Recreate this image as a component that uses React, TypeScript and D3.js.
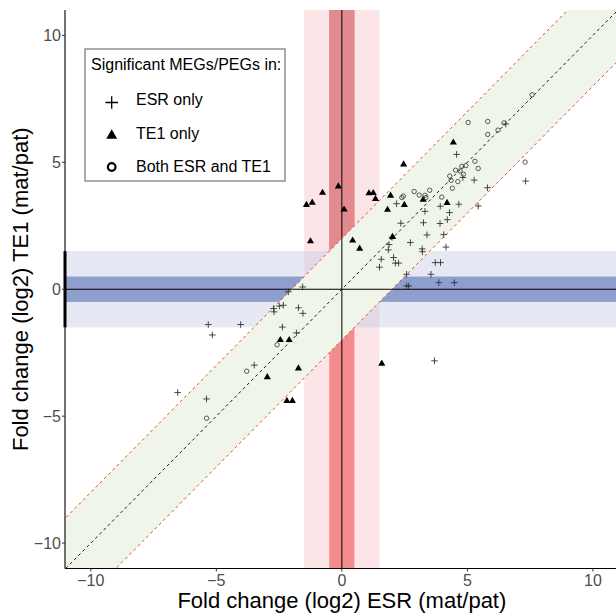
import { useMemo } from 'react';
import * as d3 from 'd3';

// ── Data (log2 mat/pat fold changes) ────────────────────────────────────────
const ESR_ONLY: [number, number][] = [
  [4.57, 5.31], [5.27, 4.30], [4.82, 4.40], [7.32, 4.26], [5.80, 4.0], [5.43, 3.28],
  [4.66, 3.35], [2.18, 3.37], [3.92, 3.27], [3.31, 3.07], [4.29, 3.02], [4.20, 2.74],
  [2.35, 2.60], [3.25, 2.62], [3.91, 2.59], [3.39, 2.14], [4.06, 2.15], [2.73, 1.84],
  [4.15, 1.66], [1.88, 1.76], [1.85, 1.55], [3.20, 1.59], [3.21, 1.48], [1.57, 1.18],
  [2.06, 1.25], [2.13, 1.03], [2.26, 1.03], [1.50, 0.87], [3.72, 1.05], [3.93, 1.05],
  [3.55, 0.59], [2.58, 0.59], [2.58, 0.13], [2.66, 0.13], [3.86, 0.26], [4.48, 0.26],
  [2.0, 2.05], [6.53, 6.51],
  [-1.56, 0.09], [-2.13, -0.10], [-2.72, -0.76], [-2.49, -0.66], [-2.33, -0.63], [-2.70, -0.89],
  [-1.73, -0.73], [-1.55, -0.95], [-2.37, -1.49], [-1.81, -1.72], [-5.32, -1.39], [-4.03, -1.39],
  [-5.16, -1.80], [3.69, -2.82], [-3.49, -2.99], [-6.54, -4.07], [-5.39, -4.32],
];

const TE1_ONLY: [number, number][] = [
  [2.46, 4.92], [4.44, 5.78], [-0.14, 4.05], [-0.77, 3.80], [-1.41, 3.32], [-1.18, 3.41],
  [1.08, 3.78], [1.25, 3.79], [1.34, 3.56], [0.09, 3.14], [-1.25, 1.89], [0.43, 1.92],
  [0.71, 1.60], [1.94, 3.69], [1.82, 3.13], [2.49, 3.32], [3.24, 3.53], [4.19, 3.40],
  [2.02, 2.06], [-2.45, -2.0], [-2.10, -2.0], [-2.97, -3.46], [-1.73, -3.12],
  [-2.19, -4.40], [-1.97, -4.40], [1.59, -2.93],
];

const BOTH: [number, number][] = [
  [5.03, 6.57], [5.81, 6.61], [5.81, 6.10], [6.46, 6.55], [6.22, 6.27], [7.30, 5.01],
  [7.58, 7.66], [5.30, 5.04], [5.43, 4.76], [4.78, 4.84], [4.94, 4.87], [4.53, 4.69],
  [4.71, 4.66], [4.84, 4.53], [4.30, 4.46], [4.35, 4.29], [4.62, 4.24], [4.40, 3.98],
  [3.50, 3.90], [2.88, 3.85], [3.08, 3.71], [3.31, 3.70], [3.35, 3.61], [3.98, 3.63],
  [2.39, 3.61], [2.45, 3.67], [-3.79, -3.23], [-2.58, -2.19], [-5.39, -5.08],
];

const TICKS = [-10, -5, 0, 5, 10];
const LEGEND_TITLE = 'Significant MEGs/PEGs in:';
const LEGEND_ITEMS = ['ESR only', 'TE1 only', 'Both ESR and TE1'];
const X_TITLE = 'Fold change (log2) ESR (mat/pat)';
const Y_TITLE = 'Fold change (log2) TE1 (mat/pat)';

const W = 616, H = 616;
const FONT = 'Liberation Sans, Arial, sans-serif';

export default function App() {
  const x = d3.scaleLinear().domain([-11, 11]).range([65.7, 618]);
  const y = d3.scaleLinear().domain([-11, 11]).range([568.5, 10]);
  const left = 65, bottom = 568.5, top = 10;

  const tri = useMemo(() => d3.symbol(d3.symbolTriangle, 22)(), []);
  const triBig = useMemo(() => d3.symbol(d3.symbolTriangle, 52)(), []);
  const poly = (pts: [number, number][]) => pts.map(([a, b]) => `${x(a)},${y(b)}`).join(' ');
  const fmt = (d: number) => (d < 0 ? `\u2212${-d}` : `${d}`);

  return (
    <svg width={W} height={H} style={{ position: 'absolute', left: 0, top: 0, background: '#fff' }}>
      <defs>
        <clipPath id="plot">
          <rect x={left} y={top} width={W - left} height={bottom - top} />
        </clipPath>
      </defs>
      <g clipPath="url(#plot)">
        {/* horizontal TE1 bands */}
        <rect x={left} width={W} y={y(1.5)} height={y(-1.5) - y(1.5)} fill="#e6e8f3" />
        <rect x={left} width={W} y={y(0.5)} height={y(-0.5) - y(0.5)} fill="#8f9fcd" />
        {/* vertical ESR bands */}
        <rect x={x(-1.5)} width={x(1.5) - x(-1.5)} y={top} height={bottom - top} fill="#fbe5e6" />
        <rect x={x(-0.5)} width={x(0.5) - x(-0.5)} y={top} height={bottom - top} fill="#f48b8c" />
        <polygon points={poly([[-0.5, 11], [0.5, 11], [0.5, 2.5], [-0.5, 1.5]])} fill="#e38a8f" />
        <rect x={x(-1.5)} width={x(1.5) - x(-1.5)} y={y(1.5)} height={y(-1.5) - y(1.5)} fill="#e3d8e6" />
        {/* +/- 2 band around the diagonal */}
        <polygon points={poly([[-13, -11], [9, 11], [13, 11], [-9, -11]])} fill="#eff6e9" />
        <line x1={x(0)} x2={x(0)} y1={top} y2={bottom} stroke="#000" strokeWidth={1} />
        <line x1={left} x2={W} y1={y(0)} y2={y(0)} stroke="#000" strokeWidth={1} />
        <line x1={x(-11)} y1={y(-11)} x2={x(11)} y2={y(11)} stroke="#000" strokeWidth={0.9} strokeDasharray="3,3" />
        {[2, -2].map(o => (
          <line key={o} x1={x(-13)} y1={y(-13 + o)} x2={x(13)} y2={y(13 + o)}
            stroke="#f03030" strokeWidth={0.9} strokeDasharray="3,3" />
        ))}
        {/* points */}
        {ESR_ONLY.map(([a, b], i) => (
          <path key={`e${i}`} d={`M${x(a) - 3.3},${y(b)}H${x(a) + 3.3}M${x(a)},${y(b) - 3.3}V${y(b) + 3.3}`}
            stroke="#333" strokeWidth={0.9} fill="none" />
        ))}
        {TE1_ONLY.map(([a, b], i) => (
          <path key={`t${i}`} d={tri} transform={`translate(${x(a)},${y(b)})`} fill="#000" />
        ))}
        {BOTH.map(([a, b], i) => (
          <circle key={`b${i}`} cx={x(a)} cy={y(b)} r={2.2} fill="none" stroke="#444" strokeWidth={0.9} />
        ))}
      </g>

      {/* axes */}
      <line x1={left} x2={left} y1={top} y2={bottom} stroke="#000" strokeWidth={1.1} />
      <line x1={left} x2={W} y1={bottom} y2={bottom} stroke="#000" strokeWidth={1.1} />
      <line x1={left} x2={left} y1={y(1.5)} y2={y(-1.5)} stroke="#000" strokeWidth={3} />
      {TICKS.map(t => (
        <g key={`x${t}`}>
          <line x1={x(t)} x2={x(t)} y1={bottom} y2={bottom + 3} stroke="#333" />
          <text x={x(t)} y={586} textAnchor="middle" fontSize={16} fontFamily={FONT} fill="#4d4d4d">{fmt(t)}</text>
        </g>
      ))}
      {TICKS.map(t => (
        <g key={`y${t}`}>
          <line x1={left - 3} x2={left} y1={y(t)} y2={y(t)} stroke="#333" />
          <text x={left - 4} y={y(t) + 5.5} textAnchor="end" fontSize={16} fontFamily={FONT} fill="#4d4d4d">{fmt(t)}</text>
        </g>
      ))}
      <text x={x(0)} y={608} textAnchor="middle" fontSize={22} fontFamily={FONT} fill="#000">{X_TITLE}</text>
      <text transform={`translate(28,${y(0)}) rotate(-90)`} textAnchor="middle" fontSize={22} fontFamily={FONT} fill="#000">{Y_TITLE}</text>

      {/* legend */}
      <rect x={85} y={49} width={200} height={132} fill="#fff" stroke="#7f7f7f" strokeWidth={1.3} />
      <text x={91} y={69.5} fontSize={16} fontFamily={FONT} fill="#000">{LEGEND_TITLE}</text>
      <path d="M105.5,102.5H118M111.7,96.3V108.7" stroke="#000" strokeWidth={1.3} fill="none" />
      <path d={triBig} transform="translate(111.7,135.5)" fill="#000" />
      <circle cx={111.7} cy={167} r={3.8} fill="none" stroke="#000" strokeWidth={2.2} />
      {LEGEND_ITEMS.map((s, i) => (
        <text key={s} x={136} y={[105, 139, 172][i]} fontSize={16} fontFamily={FONT} fill="#000">{s}</text>
      ))}
    </svg>
  );
}
